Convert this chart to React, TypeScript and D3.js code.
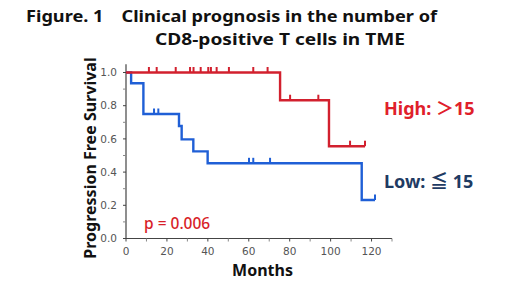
import React from "react";
import * as d3 from "d3";

// Kaplan-Meier step data
const highStepTimes = [0, 75.3, 99.2];
const highStepSurv = [1.0, 0.833, 0.556];
const highEnd = 116.8;
const highCensor = [11.2, 15, 24.3, 31.3, 33, 36.5, 40.2, 41.5, 44.3, 50.3, 62.2, 69.2, 80.2, 94, 109.5, 116.8];

const lowStepTimes = [0, 2.5, 8.5, 25.9, 27.2, 32.9, 39.9, 115.2];
const lowStepSurv = [1.0, 0.935, 0.75, 0.678, 0.597, 0.525, 0.453, 0.232];
const lowEnd = 121.7;
const lowCensor = [13.7, 15.8, 60.1, 62.2, 70.4, 121.7];

const xTicks = [0, 20, 40, 60, 80, 100, 120];
const xMinor = [10, 30, 50, 70, 90, 110, 130];
const yTicks = [0, 0.2, 0.4, 0.6, 0.8, 1.0];
const yMinor = [0.1, 0.3, 0.5, 0.7, 0.9];

const titleLine1 = "Figure. 1\u3000Clinical prognosis in the number of";
const titleLine2 = "CD8-positive T cells in TME";

const RED = "#d2202e";
const BLUE = "#1f5fd6";

function survAt(times: number[], surv: number[], t: number) {
  let s = surv[0];
  for (let i = 0; i < times.length; i++) if (times[i] <= t) s = surv[i];
  return s;
}

function stepPath(times: number[], surv: number[], end: number, x: any, y: any) {
  const pts: [number, number][] = times.map((t, i) => [t, surv[i]]);
  pts.push([end, surv[surv.length - 1]]);
  const line = d3.line<[number, number]>().x((d) => x(d[0])).y((d) => y(d[1])).curve(d3.curveStepAfter);
  return line(pts) || "";
}

export default function App() {
  const x = d3.scaleLinear().domain([0, 130]).range([126, 392]);
  const y = d3.scaleLinear().domain([0, 1]).range([238.5, 72.5]);
  const axisColor = "#444";
  const tickFont = "'DejaVu Sans', Verdana, sans-serif";
  const boldFont = "'Noto Sans', 'Noto Sans CJK JP', sans-serif";

  return (
    <svg width={520} height={291} style={{ position: "absolute", left: 0, top: 0, background: "#fff" }}>
      <rect width={520} height={291} fill="#fff" />
      {/* title */}
      <text x={26} y={22} fontFamily={boldFont} fontWeight={700} fontSize={16.5} fill="#111" textLength={411} lengthAdjust="spacingAndGlyphs">{titleLine1}</text>
      <text x={155} y={45} fontFamily={boldFont} fontWeight={700} fontSize={16.5} fill="#111" textLength={250} lengthAdjust="spacingAndGlyphs">{titleLine2}</text>

      {/* axes */}
      <line x1={x(0)} x2={x(0)} y1={y(1.05)} y2={y(0)} stroke={axisColor} strokeWidth={1.2} />
      <line x1={x(0)} x2={x(130)} y1={y(0)} y2={y(0)} stroke={axisColor} strokeWidth={1.2} />
      {yTicks.map((t) => (
        <g key={"y" + t}>
          <line x1={x(0) - 3} x2={x(0)} y1={y(t)} y2={y(t)} stroke={axisColor} strokeWidth={1} />
          <text x={x(0) - 9} y={y(t)} dy="0.35em" textAnchor="end" fontFamily={tickFont} fontSize={10.5} fill="#555">{t.toFixed(1)}</text>
        </g>
      ))}
      {yMinor.map((t) => (
        <line key={"ym" + t} x1={x(0) - 3} x2={x(0)} y1={y(t)} y2={y(t)} stroke="#888" strokeWidth={1} />
      ))}
      {xTicks.map((t) => (
        <g key={"x" + t}>
          <line x1={x(t)} x2={x(t)} y1={y(0)} y2={y(0) + 3} stroke={axisColor} strokeWidth={1} />
          <text x={x(t)} y={y(0) + 16} textAnchor="middle" fontFamily={tickFont} fontSize={10.5} fill="#555">{t}</text>
        </g>
      ))}
      {xMinor.map((t) => (
        <line key={"xm" + t} x1={x(t)} x2={x(t)} y1={y(0)} y2={y(0) + 3} stroke="#888" strokeWidth={1} />
      ))}

      {/* axis labels */}
      <text x={262.5} y={275.5} textAnchor="middle" fontFamily={boldFont} fontWeight={700} fontSize={16} fill="#111">Months</text>
      <text transform={`translate(96,158) rotate(-90)`} textAnchor="middle" fontFamily={boldFont} fontWeight={700} fontSize={16} fill="#111">Progression Free Survival</text>

      {/* curves */}
      <path d={stepPath(lowStepTimes, lowStepSurv, lowEnd, x, y)} fill="none" stroke={BLUE} strokeWidth={2.4} />
      {lowCensor.map((t, i) => {
        const s = survAt(lowStepTimes, lowStepSurv, t);
        return <line key={"lc" + i} x1={x(t)} x2={x(t)} y1={y(s)} y2={y(s) - 5.5} stroke={BLUE} strokeWidth={2} />;
      })}
      <path d={stepPath(highStepTimes, highStepSurv, highEnd, x, y)} fill="none" stroke={RED} strokeWidth={2.4} />
      {highCensor.map((t, i) => {
        const s = survAt(highStepTimes, highStepSurv, t);
        return <line key={"hc" + i} x1={x(t)} x2={x(t)} y1={y(s)} y2={y(s) - 5.5} stroke={RED} strokeWidth={2} />;
      })}

      {/* annotations */}
      <text x={144} y={229} fontFamily={boldFont} fontWeight={500} fontSize={15.5} fill="#d81e28">p = 0.006</text>
      <text x={384} y={115} fontFamily={boldFont} fontWeight={700} fontSize={18} fill="#e0202a">High: ＞15</text>
      <text x={384} y={188} fontFamily={boldFont} fontWeight={700} fontSize={18} fill="#1f3b63">Low: ≦ 15</text>
    </svg>
  );
}
